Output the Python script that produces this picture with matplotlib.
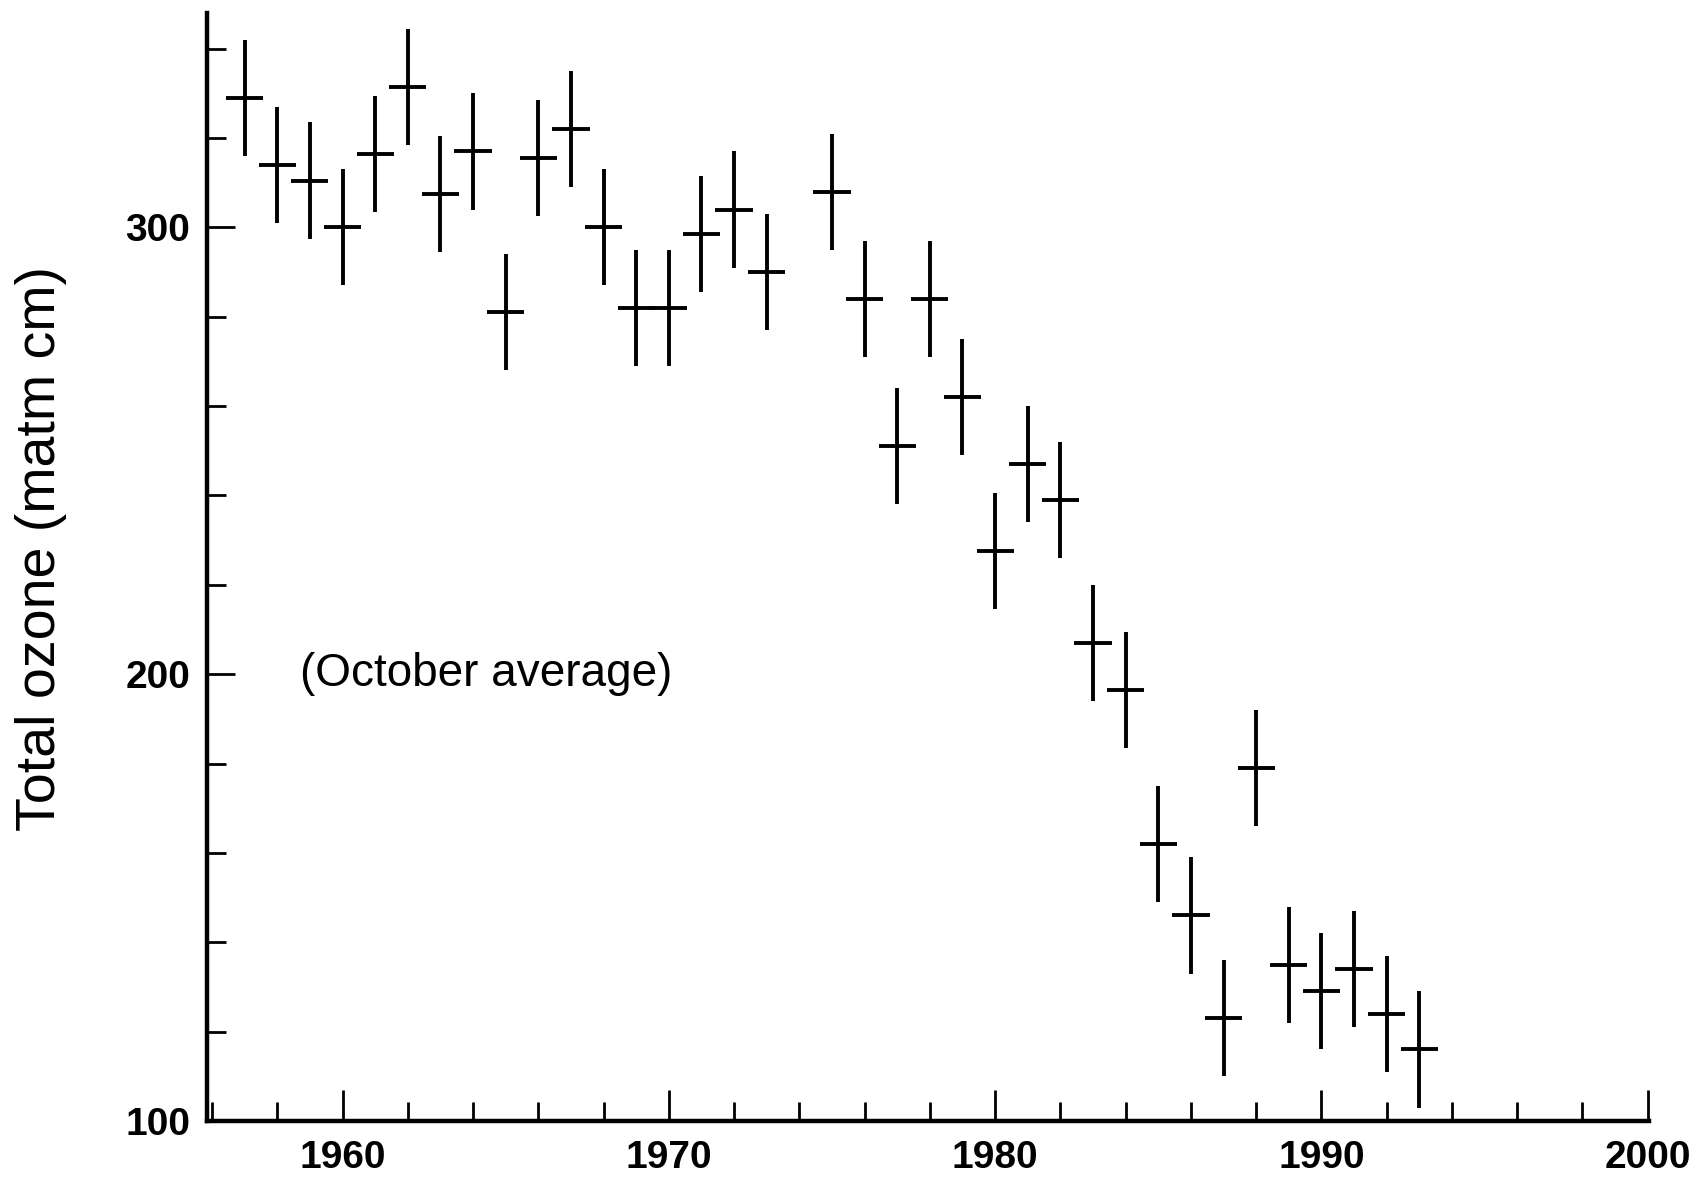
import matplotlib
matplotlib.use("Agg")
import matplotlib.pyplot as plt
from matplotlib.ticker import MultipleLocator

years = [1957, 1958, 1959, 1960, 1961, 1962, 1963, 1964, 1965, 1966, 1967, 1968,
         1969, 1970, 1971, 1972, 1973, 1975, 1976, 1977, 1978, 1979, 1980, 1981,
         1982, 1983, 1984, 1985, 1986, 1987, 1988, 1989, 1990, 1991, 1992, 1993]
ozone = [329, 314, 310.5, 300, 316.5, 331.5, 307.5, 317, 281, 315.5, 322, 300,
         282, 282, 298.5, 304, 290, 308, 284, 251, 284, 262, 227.5, 247,
         239, 207, 196.5, 162, 146, 123, 179, 135, 129, 134, 124, 116]
y_err = [13] * len(years)
x_err = 0.57

x_major = [1960, 1970, 1980, 1990, 2000]
y_major = [100, 200, 300]

plt.rcParams['font.family'] = ['Liberation Sans', 'DejaVu Sans']

fig = plt.figure(figsize=(17.06, 11.78), dpi=100)
ax = fig.add_axes([0.1212, 0.0484, 0.8456, 0.9406])

ax.errorbar(years, ozone, yerr=y_err, xerr=x_err, fmt='none', ecolor='black',
            elinewidth=2.8, capsize=0)

ax.set_xlim(1955.84, 2000.05)
ax.set_ylim(100, 348)

for s in ['top', 'right']:
    ax.spines[s].set_visible(False)
for s in ['left', 'bottom']:
    ax.spines[s].set_linewidth(3.2)

ax.set_xticks(x_major)
ax.set_xticklabels([str(v) for v in x_major])
ax.xaxis.set_minor_locator(MultipleLocator(2))
ax.set_yticks(y_major)
ax.set_yticklabels([str(v) for v in y_major])
ax.yaxis.set_minor_locator(MultipleLocator(20))

ax.tick_params(axis='x', which='major', direction='in', length=22, width=2, pad=14,
               labelsize=28)
ax.tick_params(axis='x', which='minor', direction='in', length=14, width=2)
ax.tick_params(axis='y', which='major', direction='in', length=20, width=2, pad=12,
               labelsize=28)
ax.tick_params(axis='y', which='minor', direction='in', length=14, width=2)
for lab in ax.get_xticklabels() + ax.get_yticklabels():
    lab.set_fontweight('bold')

ax.text(1958.7, 200, '(October average)', fontsize=33, ha='left', va='center')

fig.text(0.024, 0.534, 'Total ozone (matm cm)', rotation=90, fontsize=40,
         ha='center', va='center')

fig.savefig('out.png', dpi=100, facecolor='white')
